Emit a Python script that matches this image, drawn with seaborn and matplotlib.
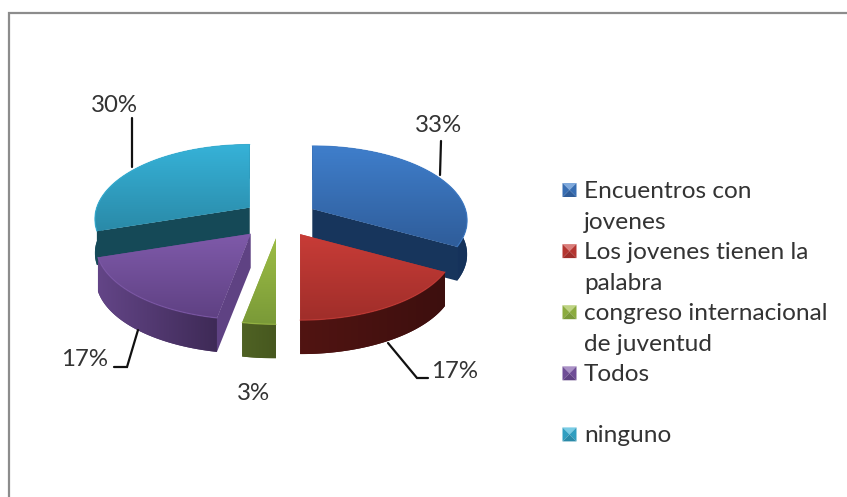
import numpy as np
import matplotlib
matplotlib.use("Agg")
import matplotlib.pyplot as plt
from matplotlib.patches import Polygon
import seaborn as sns

# ---- data ----
categories = ["Encuentros con\njovenes", "Los jovenes tienen la\npalabra",
              "congreso internacional\nde juventud", "Todos\n ", "ninguno"]
values = [33, 17, 3, 17, 30]
value_labels = ["33%", "17%", "3%", "17%", "30%"]

# ---- styles ----
top_light = ["#3f7ecb", "#c83c37", "#9dbd45", "#7f5aaa", "#36b2d8"]
top_dark = ["#2f5d9a", "#a02e2a", "#7a9a38", "#5f4183", "#2a8aa8"]
rim_light = ["#1d3f6e", "#511412", "#4f6224", "#634587", "#174c5b"]
rim_dark = ["#15325a", "#3d0f0e", "#47581f", "#3e2a56", "#144553"]
wall = ["#17355c", "#3d0f0e", "#47581f", "#5f4283", "#154957"]
text_color = "#333333"
FONT = "Lato"

sns.set_theme(style="white")
plt.rcParams["font.family"] = [FONT, "DejaVu Sans"]

W, H = 847, 497
fig = plt.figure(figsize=(W / 100, H / 100), dpi=100, facecolor="white")
ax = fig.add_axes([0, 0, 1, 1])
ax.set_axis_off()

# ---- layout in pixels ----
CX, CY, RX, RY, PERSP, DEPTH = 280, 218, 153, 72.7, 0.154, 34
EXPLODE = [0.25, 0.25, 0.27, 0.28, 0.25]


def project(theta, radius=1.0):
    t = np.radians(theta)
    X, Y = radius * np.sin(t), -radius * np.cos(t)
    w = 1 - PERSP * Y
    return np.column_stack([np.atleast_1d(RX * X / w), np.atleast_1d(RY * Y / w)])


z = [10]


def gradient_poly(pts, c1, c2, vertical=True):
    z[0] += 1
    base = Polygon(pts, closed=True, fc=sns.blend_palette([c1, c2], 3)[1],
                   ec="none", zorder=z[0])
    ax.add_patch(base)
    z[0] += 1
    cmap = sns.blend_palette([c1, c2], 64, as_cmap=True)
    g = np.linspace(0, 1, 128)
    arr = g[:, None] if vertical else g[None, :]
    x0, y0 = pts.min(axis=0)
    x1, y1 = pts.max(axis=0)
    im = ax.imshow(arr, cmap=cmap, extent=(x0, x1, y1, y0), aspect="auto",
                   zorder=z[0], interpolation="bilinear", vmin=0, vmax=1)
    clip = Polygon(pts, closed=True, transform=ax.transData, fc="none", ec="none")
    im.set_clip_path(clip)


fractions = np.array(values, dtype=float) / sum(values)
edges = np.concatenate([[0], np.cumsum(fractions) * 360])
order = [4, 0, 3, 1, 2]  # back slices first

for i in order:
    a0, a1 = edges[i], edges[i + 1]
    mid = (a0 + a1) / 2
    centre = np.array([CX, CY]) + project(mid, EXPLODE[i])[0]
    th = np.linspace(a0, a1, 120)
    arc = centre + project(th)
    down = np.array([0, DEPTH])
    # outer rim
    rim = np.vstack([arc, (arc + down)[::-1]])
    gradient_poly(rim, rim_light[i], rim_dark[i], vertical=False)
    # visible cut faces
    if i == 0:
        face = np.array([centre, arc[-1], arc[-1] + down, centre + down])
        z[0] += 1
        ax.add_patch(Polygon(face, fc=wall[i], ec="none", zorder=z[0]))
    if i in (3, 4):
        face = np.array([centre, arc[0], arc[0] + down, centre + down])
        z[0] += 1
        ax.add_patch(Polygon(face, fc=wall[i], ec="none", zorder=z[0]))
    # top face
    top = np.vstack([centre, arc])
    gradient_poly(top, top_light[i], top_dark[i], vertical=True)
    # soft bevel along the front of the rim
    z[0] += 1
    ax.plot(arc[:, 0], arc[:, 1], color=top_light[i], lw=0.9, alpha=0.7, zorder=z[0])

# ---- data labels and leader lines (pixel layout) ----
label_xy = [(438, 125), (455, 372), (254, 393), (85, 360), (114, 105)]
leaders = [[(441, 141), (440, 175)],
           [(388, 343), (417, 378), (428, 378)],
           None,
           [(138, 330), (127, 367), (114, 367)],
           [(132, 118), (132, 167)]]
for txt, (x, y), seg in zip(value_labels, label_xy, leaders):
    ax.text(x, y, txt, ha="center", va="center", fontsize=17.3, color=text_color, zorder=500)
    if seg:
        xs, ys = zip(*seg)
        ax.plot(xs, ys, color="#111111", lw=1.6, solid_joinstyle="miter", zorder=400)

# ---- legend ----
SW = 7
line_step = 30.55
base_y = 198
n_line = 0
for i, lab in enumerate(categories):
    cy = base_y + n_line * line_step - 8
    cx = 569.5
    tl, tr, bl, br = (cx - SW, cy - SW), (cx + SW, cy - SW), (cx - SW, cy + SW), (cx + SW, cy + SW)
    c = (cx, cy)
    side = sns.blend_palette([top_light[i], top_dark[i]], 3)[1]
    ax.add_patch(Polygon([tl, tr, c], fc=sns.blend_palette([top_light[i], "#ffffff"], 4)[1], ec="none", zorder=300))
    ax.add_patch(Polygon([tl, bl, c], fc=side, ec="none", zorder=300))
    ax.add_patch(Polygon([tr, br, c], fc=side, ec="none", zorder=300))
    ax.add_patch(Polygon([bl, br, c], fc=top_dark[i], ec="none", zorder=300))
    for ln in lab.split("\n"):
        ax.text(584, base_y + n_line * line_step, ln, ha="left", va="baseline",
                fontsize=17.6, color=text_color, zorder=500)
        n_line += 1

# ---- chart frame ----
ax.plot([9, 9, W], [H, 12.5, 12.5], color="#8c8c8c", lw=1.6, solid_joinstyle="miter", zorder=600)

ax.set_xlim(0, W)
ax.set_ylim(H, 0)
sns.despine(ax=ax, left=True, bottom=True)
fig.savefig("out.png", dpi=100, facecolor="white")
